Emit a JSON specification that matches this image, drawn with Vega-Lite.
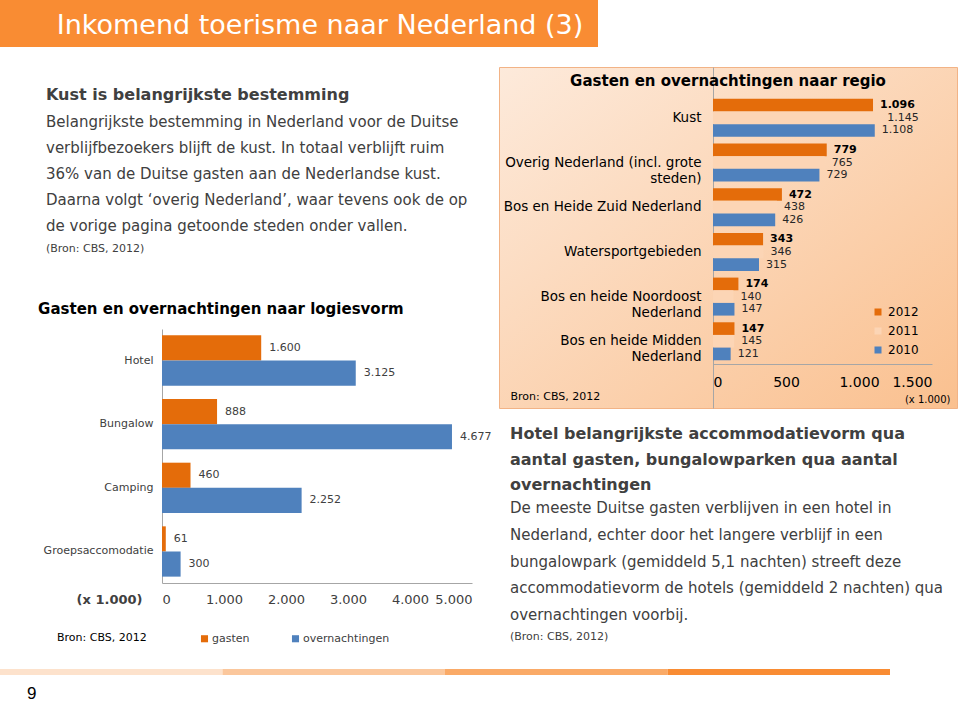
{
  "$schema": "https://vega.github.io/schema/vega-lite/v6.json",
  "background": "white",
  "padding": 0,
  "config": {
    "font": "DejaVu Sans",
    "view": {"stroke": null},
    "locale": {"number": {"decimal": ",", "thousands": ".", "grouping": [3], "currency": ["€", ""]}},
    "axis": {"grid": false, "ticks": false, "domainColor": "#A6A6A6"}
  },
  "align": "none",
  "spacing": 19,
  "resolve": {"scale": {"color": "independent", "yOffset": "independent"}, "legend": {"color": "independent"}},
  "vconcat": [
    {
      "width": 598,
      "height": 47,
      "view": {"fill": "#F98C33", "stroke": null},
      "data": {"values": [{"titel": "Inkomend toerisme naar Nederland (3)"}]},
      "mark": {"type": "text", "font": "DejaVu Sans", "fontSize": 27, "color": "white", "align": "center", "baseline": "middle", "dx": 21, "dy": 2},
      "encoding": {"text": {"field": "titel"}}
    },
    {
      "align": "none",
      "spacing": 25,
      "resolve": {"scale": {"color": "independent", "yOffset": "independent"}, "legend": {"color": "independent"}},
      "vconcat": [
        {
          "align": "none",
          "spacing": 6,
          "resolve": {"scale": {"color": "independent", "yOffset": "independent"}, "legend": {"color": "independent"}},
          "hconcat": [
            {
              "width": 32,
              "height": 10,
              "data": {"values": []},
              "mark": "point",
              "view": {"stroke": null}
            },
            {
              "align": "none",
              "spacing": 9,
              "resolve": {"scale": {"color": "independent", "yOffset": "independent"}, "legend": {"color": "independent"}},
              "vconcat": [
                {
                  "width": 300,
                  "height": 12,
                  "data": {"values": []},
                  "mark": "point",
                  "view": {"stroke": null},
                  "title": {
                    "text": "Kust is belangrijkste bestemming",
                    "subtitle": [
                      "Belangrijkste bestemming in Nederland voor de Duitse",
                      "verblijfbezoekers blijft de kust. In totaal verblijft ruim",
                      "36% van de Duitse gasten aan de Nederlandse kust.",
                      "Daarna volgt ‘overig Nederland’, waar tevens ook de op",
                      "de vorige pagina getoonde steden onder vallen."
                    ],
                    "orient": "bottom",
                    "anchor": "start",
                    "dx": -116,
                    "offset": 8,
                    "fontSize": 16,
                    "fontWeight": "bold",
                    "color": "#404040",
                    "subtitleFontSize": 15,
                    "subtitleColor": "#404040",
                    "subtitleLineHeight": 26,
                    "subtitlePadding": 12
                  }
                },
                {
                  "width": 300,
                  "height": 1,
                  "data": {"values": []},
                  "mark": "point",
                  "view": {"stroke": null},
                  "title": {"text": "(Bron: CBS, 2012)", "orient": "top", "anchor": "start", "dx": -116, "offset": 38, "fontSize": 11, "fontWeight": "normal", "color": "#404040"}
                },
                {
                  "width": 310,
                  "height": 254,
                  "title": {"text": "Gasten en overnachtingen naar logiesvorm", "anchor": "start", "dx": -5, "offset": 12, "fontSize": 15, "fontWeight": "bold", "color": "#000000"},
                  "data": {"values": [
                    {"logies": "Hotel", "type": "gasten", "aantal": 1600},
                    {"logies": "Hotel", "type": "overnachtingen", "aantal": 3125},
                    {"logies": "Bungalow", "type": "gasten", "aantal": 888},
                    {"logies": "Bungalow", "type": "overnachtingen", "aantal": 4677},
                    {"logies": "Camping", "type": "gasten", "aantal": 460},
                    {"logies": "Camping", "type": "overnachtingen", "aantal": 2252},
                    {"logies": "Groepsaccomodatie", "type": "gasten", "aantal": 61},
                    {"logies": "Groepsaccomodatie", "type": "overnachtingen", "aantal": 300}
                  ]},
                  "encoding": {
                    "y": {"field": "logies", "type": "nominal", "sort": null,
                      "scale": {"paddingInner": 0.21, "paddingOuter": 0.1},
                      "axis": {"title": null, "labelFontSize": 11, "labelColor": "#404040", "labelPadding": 9}},
                    "yOffset": {"field": "type", "type": "nominal", "scale": {"domain": ["gasten", "overnachtingen"]}},
                    "x": {"field": "aantal", "type": "quantitative", "scale": {"domain": [0, 5000]},
                      "axis": {"values": [0, 1000, 2000, 3000, 4000, 5000], "format": ",d", "labelFontSize": 13, "labelColor": "#404040", "labelPadding": 10,
                        "title": "(x 1.000)", "titleX": -20, "titleY": 16, "titleAlign": "right", "titleBaseline": "middle", "titleFontSize": 13, "titleFontWeight": "bold", "titleColor": "#404040"}}
                  },
                  "layer": [
                    {
                      "mark": {"type": "bar"},
                      "encoding": {
                        "color": {"field": "type", "type": "nominal",
                          "scale": {"domain": ["gasten", "overnachtingen"], "range": ["#E46C0A", "#4F81BD"]},
                          "legend": {"title": "Bron: CBS, 2012", "titleOrient": "left", "orient": "none", "legendX": -105, "legendY": 304, "direction": "horizontal",
                            "symbolType": "square", "symbolSize": 50, "symbolStrokeWidth": 0, "labelFontSize": 11, "labelColor": "#404040", "labelOffset": 2,
                            "titleFontSize": 11, "titleFontWeight": "normal", "titleColor": "#000000", "titlePadding": 52, "columnPadding": 40}}
                      }
                    },
                    {
                      "mark": {"type": "text", "align": "left", "baseline": "middle", "dx": 8, "fontSize": 11, "color": "#404040"},
                      "encoding": {"text": {"field": "aantal", "type": "quantitative", "format": ",d"}}
                    }
                  ]
                }
              ]
            },
            {
              "align": "none",
              "spacing": 0,
              "resolve": {"scale": {"color": "independent", "yOffset": "independent"}, "legend": {"color": "independent"}},
              "vconcat": [
                {
                  "width": 458,
                  "height": 341,
                  "view": {
                    "fill": {"expr": "{gradient: 'linear', x1: 0, y1: 0, x2: 1, y2: 1, stops: [{offset: 0, color: '#FDEADB'}, {offset: 1, color: '#FAC08F'}]}"},
                    "stroke": "#F2B386",
                    "strokeWidth": 1
                  },
                  "title": {"text": "Gasten en overnachtingen naar regio", "anchor": "middle", "frame": "group", "offset": -22, "fontSize": 15, "fontWeight": "bold", "color": "#000000"},
                  "data": {"values": [
                    {"regio": "Kust", "jaar": "2012", "aantal": 1096},
                    {"regio": "Kust", "jaar": "2011", "aantal": 1145},
                    {"regio": "Kust", "jaar": "2010", "aantal": 1108},
                    {"regio": "Overig Nederland (incl. grote steden)", "jaar": "2012", "aantal": 779},
                    {"regio": "Overig Nederland (incl. grote steden)", "jaar": "2011", "aantal": 765},
                    {"regio": "Overig Nederland (incl. grote steden)", "jaar": "2010", "aantal": 729},
                    {"regio": "Bos en Heide Zuid Nederland", "jaar": "2012", "aantal": 472},
                    {"regio": "Bos en Heide Zuid Nederland", "jaar": "2011", "aantal": 438},
                    {"regio": "Bos en Heide Zuid Nederland", "jaar": "2010", "aantal": 426},
                    {"regio": "Watersportgebieden", "jaar": "2012", "aantal": 343},
                    {"regio": "Watersportgebieden", "jaar": "2011", "aantal": 346},
                    {"regio": "Watersportgebieden", "jaar": "2010", "aantal": 315},
                    {"regio": "Bos en heide Noordoost Nederland", "jaar": "2012", "aantal": 174},
                    {"regio": "Bos en heide Noordoost Nederland", "jaar": "2011", "aantal": 140},
                    {"regio": "Bos en heide Noordoost Nederland", "jaar": "2010", "aantal": 147},
                    {"regio": "Bos en heide Midden Nederland", "jaar": "2012", "aantal": 147},
                    {"regio": "Bos en heide Midden Nederland", "jaar": "2011", "aantal": 145},
                    {"regio": "Bos en heide Midden Nederland", "jaar": "2010", "aantal": 121}
                  ]},
                  "encoding": {
                    "y": {"field": "regio", "type": "nominal", "sort": null,
                      "scale": {"paddingInner": 0.15, "paddingOuter": 0.89, "align": 0.4},
                      "axis": {"offset": -214, "labelFontSize": 13.5, "labelColor": "#000000", "labelPadding": 12, "labelLimit": 300, "labelLineHeight": 16,
                        "labelExpr": "datum.label == 'Overig Nederland (incl. grote steden)' ? ['Overig Nederland (incl. grote', 'steden)'] : datum.label == 'Bos en heide Noordoost Nederland' ? ['Bos en heide Noordoost', 'Nederland'] : datum.label == 'Bos en heide Midden Nederland' ? ['Bos en heide Midden', 'Nederland'] : datum.label",
                        "title": "Bron: CBS, 2012", "titleAngle": 0, "titleX": -203, "titleY": 332, "titleAlign": "left", "titleBaseline": "alphabetic", "titleFontSize": 11, "titleFontWeight": "normal", "titleColor": "#000000"}},
                    "yOffset": {"field": "jaar", "type": "nominal", "scale": {"domain": ["2012", "2011", "2010"]}},
                    "x": {"field": "aantal", "type": "quantitative", "scale": {"domain": [0, 1500], "range": [214, 433]},
                      "axis": {"offset": -44, "values": [0, 500, 1000, 1500], "format": ",d", "labelFontSize": 14, "labelColor": "#000000", "labelPadding": 11,
                        "title": "(x 1.000)", "titleX": 451, "titleY": 35, "titleAlign": "right", "titleBaseline": "middle", "titleFontSize": 10, "titleFontWeight": "normal", "titleColor": "#000000"}}
                  },
                  "layer": [
                    {
                      "mark": {"type": "bar"},
                      "encoding": {
                        "color": {"field": "jaar", "type": "nominal",
                          "scale": {"domain": ["2012", "2011", "2010"], "range": ["#E46C0A", "#FCD5B5", "#4F81BD"]},
                          "legend": {"title": null, "orient": "none", "legendX": 373, "legendY": 239, "direction": "vertical", "symbolType": "square", "symbolSize": 49, "symbolStrokeWidth": 0,
                            "labelFontSize": 12, "labelColor": "#000000", "labelOffset": 4, "rowPadding": 7}}
                      }
                    },
                    {
                      "transform": [{"filter": "datum.jaar == '2012'"}],
                      "mark": {"type": "text", "align": "left", "baseline": "middle", "dx": 7, "fontSize": 11, "fontWeight": "bold", "color": "#000000"},
                      "encoding": {"text": {"field": "aantal", "type": "quantitative", "format": ",d"}}
                    },
                    {
                      "transform": [{"filter": "datum.jaar != '2012'"}],
                      "mark": {"type": "text", "align": "left", "baseline": "middle", "dx": 7, "fontSize": 11, "color": "#262626"},
                      "encoding": {"text": {"field": "aantal", "type": "quantitative", "format": ",d"}}
                    }
                  ]
                },
                {
                  "width": 458,
                  "height": 1,
                  "data": {"values": []},
                  "mark": "point",
                  "view": {"stroke": null},
                  "title": {
                    "text": ["Hotel belangrijkste accommodatievorm qua", "aantal gasten, bungalowparken qua aantal", "overnachtingen"],
                    "subtitle": [
                      "De meeste Duitse gasten verblijven in een hotel in",
                      "Nederland, echter door het langere verblijf in een",
                      "bungalowpark (gemiddeld 5,1 nachten) streeft deze",
                      "accommodatievorm de hotels (gemiddeld 2 nachten) qua",
                      "overnachtingen voorbij."
                    ],
                    "orient": "bottom",
                    "anchor": "start",
                    "dx": 11,
                    "offset": 16,
                    "fontSize": 16,
                    "fontWeight": "bold",
                    "color": "#404040",
                    "lineHeight": 25.5,
                    "subtitleFontSize": 15,
                    "subtitleColor": "#404040",
                    "subtitleLineHeight": 26.8,
                    "subtitlePadding": 8
                  }
                },
                {
                  "width": 458,
                  "height": 1,
                  "data": {"values": []},
                  "mark": "point",
                  "view": {"stroke": null},
                  "title": {"text": "(Bron: CBS, 2012)", "orient": "bottom", "anchor": "start", "dx": 11, "offset": 6, "fontSize": 11, "fontWeight": "normal", "color": "#404040"}
                }
              ]
            }
          ]
        },
        {
          "width": 890,
          "height": 6,
          "view": {"stroke": null},
          "title": {"text": "9", "orient": "bottom", "anchor": "start", "dx": 27, "offset": 11, "font": "Liberation Sans", "fontSize": 17, "fontWeight": "normal", "color": "#000000"},
          "data": {"values": [{"deel": "1"}, {"deel": "2"}, {"deel": "3"}, {"deel": "4"}]},
          "mark": {"type": "rect"},
          "encoding": {
            "x": {"field": "deel", "type": "nominal", "axis": null, "scale": {"paddingInner": 0, "paddingOuter": 0}},
            "color": {"field": "deel", "type": "nominal", "legend": null, "scale": {"range": ["#FDE2CC", "#FBC79C", "#FAAA67", "#F98C33"]}}
          }
        }
      ]
    }
  ]
}
